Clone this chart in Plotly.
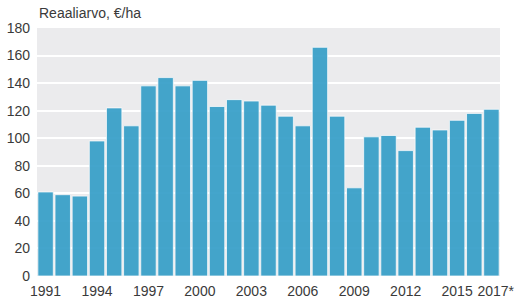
import plotly.graph_objects as go

years = list(range(1991, 2018))
values = [61, 59, 58, 98, 122, 109, 138, 144, 138, 142, 123, 128, 127, 124, 116, 109, 166, 116,
          64, 101, 102, 91, 108, 106, 113, 118, 121]
tick_years = [1991, 1994, 1997, 2000, 2003, 2006, 2009, 2012, 2015, 2017]
tick_labels = ["1991", "1994", "1997", "2000", "2003", "2006", "2009", "2012", "2015", "2017*"]
y_ticks = list(range(0, 181, 20))

fig = go.Figure(go.Bar(
    x=years, y=values,
    marker=dict(color="#359ec8", line=dict(color="rgba(255,255,255,0.75)", width=1)),
    opacity=0.92,
))

# nudge the last (starred) label slightly right so it doesn't collide with its neighbour
tickpos = tick_years[:-1] + [tick_years[-1] + 0.25]

font = "Liberation Sans, Arial, sans-serif"
fig.update_layout(
    width=517, height=299,
    margin=dict(l=37, r=17, t=28, b=23),
    paper_bgcolor="white", plot_bgcolor="#ebebed",
    bargap=0.1, showlegend=False,
    font=dict(family=font, size=14, color="#3a3a3a"),
    xaxis=dict(range=[1990.5, 2017.5], tickmode="array", tickvals=tickpos, ticktext=tick_labels,
               showgrid=False, zeroline=False, ticks="", tickangle=0, automargin=False,
               ticklabelstandoff=5, tickfont=dict(size=14, color="#3a3a3a")),
    yaxis=dict(range=[0, 180], tickmode="array", tickvals=y_ticks, showgrid=True,
               gridcolor="white", gridwidth=2, zeroline=False, ticks="", automargin=False,
               ticklabelstandoff=6, tickfont=dict(size=14, color="#3a3a3a")),
    annotations=[dict(text="Reaaliarvo, €/ha", xref="paper", yref="paper", x=0, y=1,
                      xanchor="left", yanchor="bottom", yshift=5, showarrow=False,
                      font=dict(size=14, color="#3a3a3a"))],
)

fig.write_html("out.html", config={"displayModeBar": False},
               post_script="document.body.style.margin='0';document.body.style.padding='0';")
